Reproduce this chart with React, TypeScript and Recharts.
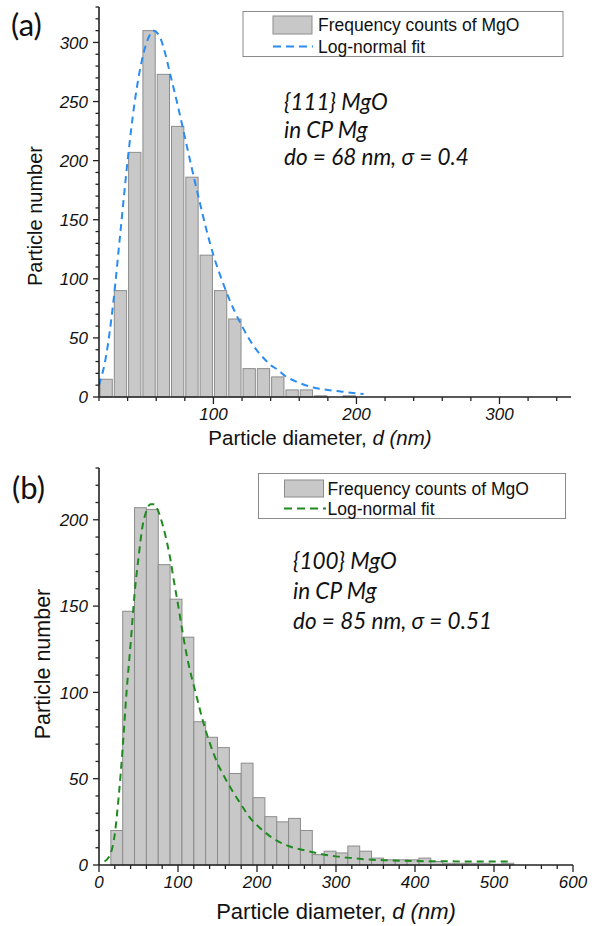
import { ComposedChart, Line, XAxis, YAxis, ReferenceArea } from "recharts";

// panel (a): {111} MgO, bins of 10 nm
const binStartA = [20, 30, 40, 50, 60, 70, 80, 90, 100, 110, 120, 130, 140, 150, 160, 170, 180, 190];
const countA = [15, 90, 207, 310, 273, 229, 186, 120, 90, 66, 24, 24, 17, 6, 6, 1, 0, 1];
const fitDA = [20, 25, 30, 35, 40, 45, 50, 55, 58, 62, 66, 70, 75, 80, 85, 90, 95, 100, 105, 110, 115, 120, 125, 130, 135, 140, 145, 150, 160, 170, 180, 190, 205];
const fitNA = [10, 35, 80, 140, 200, 250, 285, 305, 310, 306, 292, 272, 247, 220, 193, 167, 142, 120, 102, 86, 72, 60, 49, 40, 33, 27, 23, 18, 12, 8, 6, 4.5, 2.5];
const xTicksA = [20, 40, 60, 80, 100, 120, 140, 160, 180, 200, 220, 240, 260, 280, 300, 320, 340];
const yTicksA = Array.from({ length: 34 }, (_, i) => i * 10);

// panel (b): {100} MgO, bins of 15 nm
const binStartB = [15, 30, 45, 60, 75, 90, 105, 120, 135, 150, 165, 180, 195, 210, 225, 240, 255, 270, 285, 300, 315, 330, 345, 360, 375, 390, 405, 420, 435, 450, 465, 480, 495, 510];
const countB = [20, 147, 207, 206, 174, 154, 132, 83, 74, 68, 53, 59, 39, 28, 25, 27, 20, 6, 8, 7, 11, 8, 4, 3, 3, 3, 4, 2, 1, 1, 1, 1, 0.5, 1];
const fitDB = [7, 15, 20, 25, 30, 35, 40, 45, 50, 55, 60, 65, 70, 75, 80, 85, 90, 95, 100, 105, 110, 115, 120, 125, 130, 135, 140, 150, 160, 170, 180, 190, 200, 210, 220, 230, 240, 260, 280, 300, 320, 340, 360, 400, 450, 520];
const fitNB = [2, 7, 18, 40, 68, 101, 128, 157, 178, 196, 205, 209, 209, 205, 198, 189, 178, 164, 151, 137, 124, 113, 104, 95, 86, 78, 71, 59, 50, 42, 35, 28, 23, 19, 15.5, 13, 11, 8.5, 6.5, 5, 4, 3.2, 2.8, 2.3, 2.1, 2];
const xTicksB = Array.from({ length: 31 }, (_, i) => i * 20);
const yTicksB = Array.from({ length: 24 }, (_, i) => i * 10);

const tickFont = "'Liberation Sans', Arial, sans-serif";
const noteFont = "Lato, 'Open Sans', sans-serif";
const barFill = "#c8c8c8";
const barStroke = "#8c8c8c";
const frame = "#222";
const italic = { fontStyle: "italic" as const };

const XTick = ({ x, y, payload, every }: any) => {
  const major = payload.value % every === 0;
  return (
    <g>
      <line x1={x} x2={x} y1={y} y2={y + (major ? 7 : 4)} stroke={frame} strokeWidth={1.3} />
      {major && (
        <text x={x} y={y + 23} textAnchor="middle" fontSize={17} style={italic} fontFamily={tickFont} fill="#111">
          {payload.value}
        </text>
      )}
    </g>
  );
};

const YTick = ({ x, y, payload }: any) => {
  const major = payload.value % 50 === 0;
  return (
    <g>
      <line x1={x - (major ? 6 : 3.5)} x2={x} y1={y} y2={y} stroke={frame} strokeWidth={1.3} />
      {major && (
        <text x={x - 11} y={y} dy="0.36em" textAnchor="end" fontSize={17} style={italic} fontFamily={tickFont} fill="#111">
          {payload.value}
        </text>
      )}
    </g>
  );
};

function Histogram({ bins, counts, width, fit, color, xDomain, xTicks, yDomain, yTicks, height, margin, xHeight, gap }: any) {
  return (
    <ComposedChart width={596} height={height} data={fit} margin={margin}>
      <XAxis dataKey="d" type="number" domain={xDomain} ticks={xTicks} interval={0} allowDataOverflow
        height={xHeight} tickSize={0} tickMargin={0} tickLine={false} axisLine={{ stroke: frame, strokeWidth: 1.6 }}
        tick={(p: any) => <XTick {...p} every={100} />} />
      <YAxis type="number" domain={yDomain} ticks={yTicks} interval={0} allowDataOverflow width={99}
        tickSize={0} tickMargin={0} tickLine={false} axisLine={{ stroke: frame, strokeWidth: 1.6 }}
        tick={(p: any) => <YTick {...p} />} />
      <XAxis xAxisId="top" orientation="top" type="number" domain={xDomain} height={0} tick={false} tickLine={false}
        axisLine={{ stroke: frame, strokeWidth: 1.6 }} />
      <YAxis yAxisId="right" orientation="right" type="number" domain={yDomain} width={0} tick={false} tickLine={false}
        axisLine={{ stroke: frame, strokeWidth: 1.6 }} />
      {bins.map((b: number, i: number) =>
        counts[i] > 0 ? (
          <ReferenceArea key={b} x1={b} x2={b + width} y1={0} y2={counts[i]} fill={barFill} fillOpacity={1}
            stroke={barStroke} strokeWidth={1}
            shape={(p: any) => (
              <rect x={p.x + gap} y={p.y} width={Math.max(p.width - 2 * gap, 0)} height={p.height}
                fill={barFill} stroke={barStroke} strokeWidth={1} />
            )} />
        ) : null
      )}
      <Line type="monotone" dataKey="n" stroke={color} strokeWidth={2} strokeDasharray="7 5" dot={false}
        activeDot={false} isAnimationActive={false} />
    </ComposedChart>
  );
}

export default function App() {
  const fitA = fitDA.map((d, i) => ({ d, n: fitNA[i] }));
  const fitB = fitDB.map((d, i) => ({ d, n: fitNB[i] }));
  const blue = "#2a8cf0";
  const green = "#1f8a1f";
  return (
    <div style={{ position: "absolute", top: 0, left: 0, width: 596, height: 926, background: "#fff", overflow: "hidden" }}>
      <div style={{ position: "absolute", top: 0, left: 0 }}>
        <Histogram bins={binStartA} counts={countA} width={10} fit={fitA} color={blue}
          xDomain={[20, 350]} xTicks={xTicksA} yDomain={[0, 330]} yTicks={yTicksA}
          height={460} margin={{ top: 7, right: 25, bottom: 0, left: 0 }} xHeight={63} gap={1} />
      </div>
      <div style={{ position: "absolute", top: 460, left: 0 }}>
        <Histogram bins={binStartB} counts={countB} width={15} fit={fitB} color={green}
          xDomain={[0, 600]} xTicks={xTicksB} yDomain={[0, 230]} yTicks={yTicksB}
          height={466} margin={{ top: 8, right: 23, bottom: 0, left: 0 }} xHeight={61} gap={0} />
      </div>
      <svg width={596} height={926} style={{ position: "absolute", top: 0, left: 0, pointerEvents: "none" }}>
        <g fontFamily={noteFont} fill="#111">
          <text x={11} y={36} fontSize={31}>(a)</text>
          <text x={12} y={499} fontSize={31}>(b)</text>
        </g>
        <g fontFamily={noteFont} fontSize={22.5} fill="#111" style={italic}>
          <text x={284} y={110}>{"{111} MgO"}</text>
          <text x={284} y={138}>in CP Mg</text>
          <text x={284} y={165}>do = 68 nm, σ = 0.4</text>
          <text x={293} y={569}>{"{100} MgO"}</text>
          <text x={293} y={599}>in CP Mg</text>
          <text x={293} y={629}>do = 85 nm, σ = 0.51</text>
        </g>
        <g fontFamily={tickFont} fill="#111">
          <text x={320} y={445} fontSize={20.5} textAnchor="middle">
            Particle diameter, <tspan style={italic}>d (nm)</tspan>
          </text>
          <text x={336} y={919} fontSize={22} textAnchor="middle">
            Particle diameter, <tspan style={italic}>d (nm)</tspan>
          </text>
          <text transform="translate(42,216) rotate(-90)" fontSize={20} textAnchor="middle">Particle number</text>
          <text transform="translate(50,664) rotate(-90)" fontSize={21.5} textAnchor="middle">Particle number</text>
        </g>
        <g fontFamily={tickFont} fontSize={17.5} fill="#111">
          <rect x={243} y={11.5} width={320} height={45} fill="#fff" stroke="#8a8a8a" strokeWidth={1} />
          <rect x={273} y={16} width={39} height={18} fill={barFill} stroke={barStroke} strokeWidth={1} />
          <text x={318} y={31}>Frequency counts of MgO</text>
          <line x1={273} x2={313} y1={46.5} y2={46.5} stroke={blue} strokeWidth={2} strokeDasharray="8 5" />
          <text x={318} y={52.5}>Log-normal fit</text>

          <rect x={258.5} y={473.5} width={307} height={45} fill="#fff" stroke="#8a8a8a" strokeWidth={1} />
          <rect x={284.5} y={480} width={39} height={17} fill={barFill} stroke={barStroke} strokeWidth={1} />
          <text x={327.5} y={495}>Frequency counts of MgO</text>
          <line x1={284} x2={326} y1={508.5} y2={508.5} stroke={green} strokeWidth={2} strokeDasharray="8 5" />
          <text x={327.5} y={514.5}>Log-normal fit</text>
        </g>
      </svg>
    </div>
  );
}
